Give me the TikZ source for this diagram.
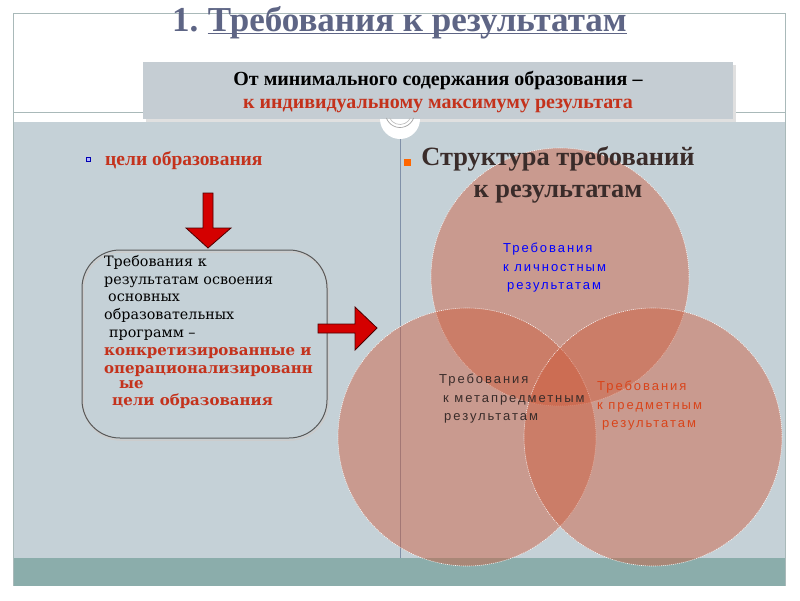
\documentclass[tikz,border=0pt]{standalone}
\usepackage{fontspec}
\setmainfont{Liberation Serif}
\newfontfamily\boxfont{DejaVu Serif}
\newfontfamily\circfont[LetterSpace=15]{Liberation Sans}

\definecolor{slidegray}{HTML}{C5D1D7}
\definecolor{bandteal}{HTML}{8BADAB}
\definecolor{framegray}{HTML}{A9B9B9}
\definecolor{hdrgray}{HTML}{C5CDD3}
\definecolor{titleblue}{HTML}{5E6585}
\definecolor{textred}{HTML}{C4321C}
\definecolor{arrowred}{HTML}{D40000}
\definecolor{circred}{HTML}{CE5B3B}
\definecolor{headbrown}{HTML}{3A2C2A}
\definecolor{divline}{HTML}{8090A8}
\definecolor{subjorange}{HTML}{D9441A}

\begin{document}
\begin{tikzpicture}[x=1pt, y=-1pt, every node/.style={inner sep=0pt},
  venn/.style={circle, minimum size=258pt, fill=circred, fill opacity=0.46,
    draw=white, draw opacity=0.9, dash pattern=on 1pt off 1pt, line width=0.6pt},
  venntext/.style={font=\circfont\fontsize{13}{18.5}\selectfont, align=left, anchor=west},
  blockarrow/.style={fill=arrowred, draw=black!70!red, line width=0.8pt}]

\useasboundingbox (0,0) rectangle (800,600);
\fill[white] (0,0) rectangle (800,600);

% frame and slide background
\fill[slidegray] (13,122) rectangle (785,558);
\fill[bandteal] (13,558) rectangle (785,586);
\draw[framegray, line width=0.8pt] (13,13) -- (785,13);
\draw[framegray, line width=0.8pt] (13,112) -- (785,112);
\draw[framegray, line width=1pt] (13,13) -- (13,586);
\draw[framegray, line width=1pt] (785,13) -- (785,586);

% title
\node[font=\bfseries\fontsize{35}{35}\selectfont, text=titleblue, anchor=base west]
  (num) at (172,31) {1.};
\node[font=\bfseries\fontsize{35}{35}\selectfont, text=titleblue, anchor=base west]
  (title) at ([xshift=9pt]num.base east) {Требования к результатам};
\draw[titleblue, line width=1.6pt] ([yshift=-2.5pt]title.base west) -- ([yshift=-2.5pt]title.base east);

% header box
\fill[black!12] (146,65) rectangle (736,122);
\node[fill=hdrgray, minimum width=590pt, minimum height=57pt] (hdr) at (438,90.5) {};
\node[font=\bfseries\fontsize{20}{23}\selectfont, align=center] (hdrtext) at ([yshift=-1pt]hdr)
  {От минимального содержания образования –\\ \textcolor{textred}{к индивидуальному максимуму результата}};

% knob and divider
\fill[white] (380,119) arc[start angle=180, end angle=0, radius=20] -- cycle;
\draw[black!35, line width=0.7pt] (400,113) ++(160:14.5) arc[start angle=160, end angle=20, radius=14.5];
\draw[black!25, line width=0.7pt] (400,113) ++(155:11.5) arc[start angle=155, end angle=25, radius=11.5];
\draw[divline, line width=0.8pt] (400,139) -- (400,558);

% left column
\node[draw=blue!70!black, fill=blue!30, minimum size=4.5pt] (bul1) at (88,159) {};
\node[font=\bfseries\fontsize{19.5}{22}\selectfont, text=textred, anchor=west]
  (goals) at (105,161) {цели образования};

\filldraw[blockarrow] (203,193) -- (213,193) -- (213,228) -- (231,228) -- (208,248)
  -- (186,228) -- (203,228) -- cycle;

\draw[black!20, line width=1.5pt, rounded corners=38pt] (83,252) rectangle (328,440);
\node[draw=black!65, line width=1pt, rounded corners=38pt, minimum width=245pt,
  minimum height=188pt] (reqbox) at (204.5,344) {};
\node[font=\boxfont\fontsize{14.3}{17.8}\selectfont, align=left, anchor=north west]
  (reqtext) at (104,255)
  {Требования к\\
   результатам освоения\\
   \hspace{4pt}основных\\
   образовательных\\
   \hspace{5pt}программ –\\
   \textcolor{textred}{\bfseries\fontsize{15}{17.8}\selectfont конкретизированные и}\\
   \textcolor{textred}{\bfseries\fontsize{15}{17.8}\selectfont операционализированн}\\[-2pt]
   \textcolor{textred}{\bfseries\fontsize{15}{17.8}\selectfont\hspace{15pt}ые}\\[-1pt]
   \textcolor{textred}{\bfseries\fontsize{15}{17.8}\selectfont\hspace{8pt}цели образования}};

\filldraw[blockarrow] (318,324) -- (355,324) -- (355,307) -- (377,328) -- (355,350)
  -- (355,333) -- (318,333) -- cycle;

% right column: venn
\node[venn] (personal) at (560,277) {};
\node[venn] (meta) at (467,437) {};
\node[venn] (subject) at (653,437) {};

\node[fill=orange!80!red, minimum size=7pt] (bul2) at (407,162) {};
\node[font=\bfseries\fontsize{26.4}{32}\selectfont, text=headbrown, align=center]
  (struct) at (558,175) {Структура требований\\ к результатам};

\node[venntext, text=blue] (perstext) at (503,268)
  {Требования\\к личностным\\\hspace{4pt}результатам};
\node[venntext, text=headbrown] (metatext) at (439,399)
  {Требования\\\hspace{4pt}к метапредметным\\\hspace{5pt}результатам};
\node[venntext, text=subjorange] (subjtext) at (597,406)
  {Требования\\к предметным\\\hspace{5pt}результатам};

\end{tikzpicture}
\end{document}
